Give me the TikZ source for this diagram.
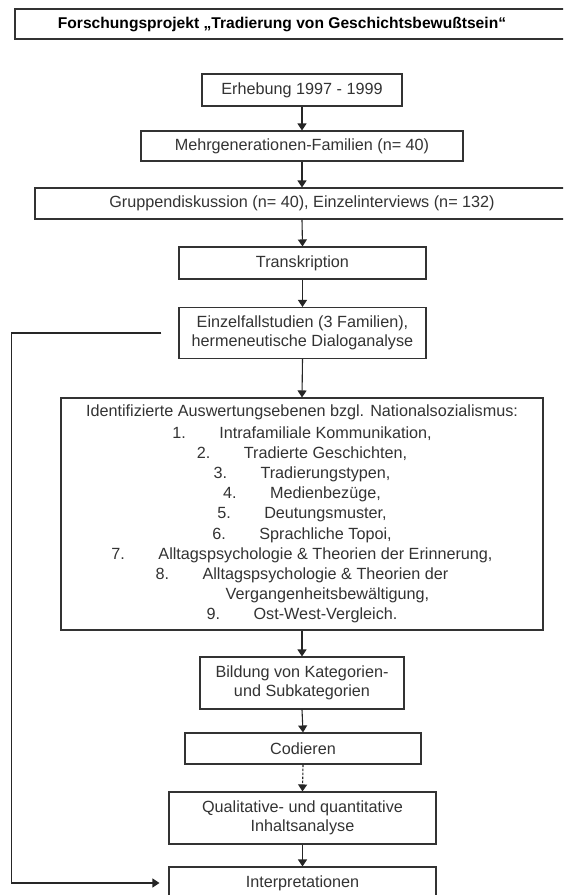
\documentclass[tikz,border=0pt]{standalone}
\usepackage{fontspec}
\setmainfont{Liberation Sans}
\usetikzlibrary{arrows.meta,calc}
\begin{document}
\begin{tikzpicture}[x=1pt,y=-1pt,
  box/.style={draw=black!80, line width=1.1pt, rectangle, inner sep=0pt, align=center,
    font=\fontsize{16.2}{19}\selectfont, text=black!80},
  arr/.style={draw=black!85, line width=1.1pt, -{Triangle[length=7pt,width=9pt]}},
  dasharr/.style={arr, dash pattern=on 2.5pt off 1.5pt},
]
\useasboundingbox (0,0) rectangle (563,895);
\clip (0,0) rectangle (563,895);
\fill[white] (0,0) rectangle (563,895);

\node[box, line width=1.4pt, minimum width=560pt, minimum height=30pt, text=black,
  font=\fontsize{15.6}{19}\selectfont\bfseries] (title) at (295,24)
  {\hspace*{-26pt}Forschungsprojekt „Tradierung von Geschichtsbewußtsein“};

\node[box, minimum width=200pt, minimum height=32pt] (erh) at (302,90) {Erhebung 1997 - 1999};
\node[box, minimum width=322pt, minimum height=30pt] (mehr) at (302,146) {Mehrgenerationen-Familien (n= 40)};
\node[box, minimum width=534pt, minimum height=31pt] (grup) at (302,203.5) {Gruppendiskussion (n= 40), Einzelinterviews (n= 132)};
\node[box, minimum width=247pt, minimum height=32pt] (trans) at (302.5,263) {Transkription};
\node[box, minimum width=247pt, minimum height=51pt] (einz) at (302.5,333)
  {Einzelfallstudien (3 Familien),\\hermeneutische Dialoganalyse};
\node[box, minimum width=482pt, minimum height=232pt, font=\fontsize{16.2}{20.2}\selectfont] (ident) at (302,514)
  {Identifizierte Auswertungsebenen bzgl. Nationalsozialismus:\\[1.5pt]
   \makebox[47pt][l]{1.}Intrafamiliale Kommunikation,\\
   \makebox[47pt][l]{2.}Tradierte Geschichten,\\
   \makebox[47pt][l]{3.}Tradierungstypen,\\
   \makebox[47pt][l]{4.}Medienbezüge,\\
   \makebox[47pt][l]{5.}Deutungsmuster,\\
   \makebox[47pt][l]{6.}Sprachliche Topoi,\\
   \makebox[47pt][l]{7.}Alltagspsychologie \& Theorien der Erinnerung,\\
   \makebox[47pt][l]{8.}Alltagspsychologie \& Theorien der\\
   \hspace*{51pt}Vergangenheitsbewältigung,\\
   \makebox[47pt][l]{9.}Ost-West-Vergleich.};
\node[box, minimum width=204pt, minimum height=52pt] (bild) at (302,683)
  {Bildung von Kategorien-\\und Subkategorien};
\node[box, minimum width=236pt, minimum height=31pt] (cod) at (303,748.5) {Codieren};
\node[box, minimum width=267pt, minimum height=52pt] (qual) at (302.5,818)
  {Qualitative- und quantitative\\Inhaltsanalyse};
\node[box, minimum width=267pt, minimum height=32pt] (interp) at (302.5,883) {Interpretationen};

\draw[arr] (erh.south) -- (mehr.north);
\draw[arr] (mehr.south) -- (grup.north);
\draw[arr] (grup.south) -- (trans.north);
\draw[arr] (trans.south) -- (einz.north);
\draw[arr] (einz.south) -- (ident.north);
\draw[arr] (ident.south) -- (bild.north);
\draw[arr] (bild.south) -- (cod.north);
\draw[dasharr] (cod.south) -- (qual.north);
\draw[arr] (qual.south) -- (interp.north);

\coordinate (fbs) at ($(einz.west)+(-17,0)$);
\coordinate (fbe) at ($(interp.west)+(-9,0)$);
\draw[arr] (fbs) -- ++(-150,0) |- (fbe);
\end{tikzpicture}
\end{document}
